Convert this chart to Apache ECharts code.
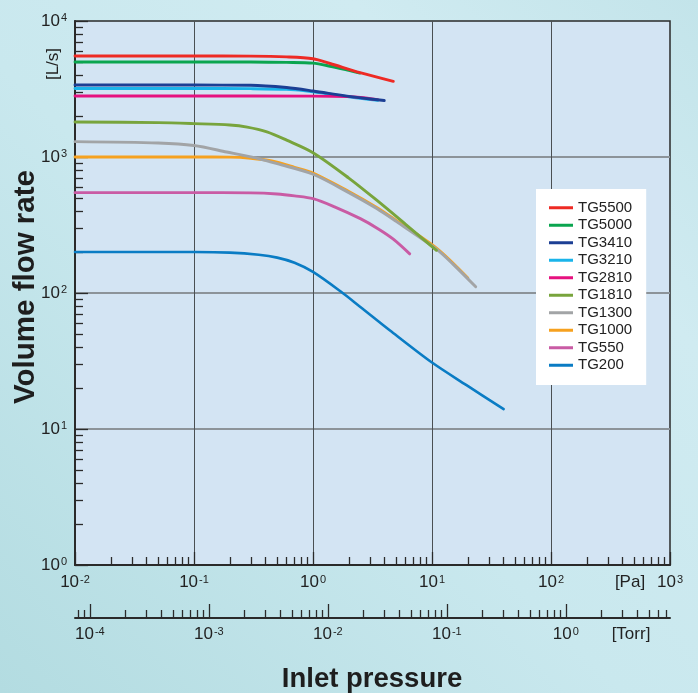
<!DOCTYPE html>
<html><head><meta charset="utf-8">
<script src="https://cdn.jsdelivr.net/npm/echarts@6/dist/echarts.min.js"></script>
<style>html,body{margin:0;padding:0;background:#c6e6ec}#c{width:698px;height:693px}</style>
</head><body><div id="c"></div>
<script>
// ---- data (x: inlet pressure [Pa], y: volume flow rate [L/s]) ----
const seriesNames = ['TG5500','TG5000','TG3410','TG3210','TG2810','TG1810','TG1300','TG1000','TG550','TG200'];
const seriesColors = ['#ee2a24','#0aa54f','#1c3f94','#1ab4ea','#e6117f','#78a43c','#a2a4a6','#f6a11f','#c95ba4','#0a7cc4'];
const tg5500 = [[0.01,5530],[0.1,5530],[0.3,5520],[0.6,5450],[1,5280],[1.39,4870],[2.48,4170],[4.73,3600]];
const tg5000 = [[0.01,5000],[0.1,5000],[0.3,4990],[0.6,4960],[1,4900],[1.39,4650],[2,4330],[2.48,4140]];
const tg3410 = [[0.01,3380],[0.1,3380],[0.3,3370],[0.6,3240],[1,3055],[2,2790],[3.97,2600]];
const tg3210 = [[0.01,3190],[0.1,3190],[0.3,3180],[0.6,3140],[1,3020],[2,2770],[3.5,2610]];
const tg2810 = [[0.01,2810],[0.1,2810],[1,2805],[2,2780],[2.5,2740],[3.5,2640]];
const tg1810 = [[0.01,1810],[0.05,1790],[0.1,1760],[0.2,1720],[0.28,1660],[0.41,1530],[0.6,1330],[1,1076],[2,700],[3.43,481],[6,320],[10.9,206]];
const tg1300 = [[0.01,1297],[0.05,1268],[0.1,1215],[0.188,1088],[0.36,966],[0.5,893],[1,747],[2,547],[3.43,418],[5,336],[10.9,210],[15,163],[23.3,111]];
const tg1000 = [[0.01,1000],[0.1,1000],[0.2,998],[0.3,980],[0.45,935],[0.7,840],[1,762],[2,558],[3.43,426],[5,342],[10.9,214],[20,129]];
const tg550  = [[0.01,547],[0.1,547],[0.3,545],[0.5,535],[0.7,518],[1,494],[1.5,432],[2.5,352],[3.54,296],[4.73,249],[6.5,194]];
const tg200  = [[0.01,200],[0.1,200],[0.2,198],[0.35,191],[0.5,182],[0.7,167],[1,143],[1.7,103],[2.5,79],[4.44,53],[10,30.8],[19.5,21],[40,14]];
const seriesData = [tg5500,tg5000,tg3410,tg3210,tg2810,tg1810,tg1300,tg1000,tg550,tg200];
const drawOrder = ['TG5000','TG5500','TG3210','TG2810','TG3410','TG1000','TG1300','TG1810','TG550','TG200'];

// ---- axes ticks ----
const paMajorTicks = [0.01,0.1,1,10,100,1000];
const paLabels = [0.01,0.1,1,10,100,1000];
const paMinorTicks = [];
for (let e=-2;e<=2;e++) for (let m=2;m<=9;m++) paMinorTicks.push(+(m*Math.pow(10,e)).toPrecision(3));
const flowMajorTicks = [1,10,100,1000,10000];
const flowLabels = [1,10,100,1000,10000];
const flowMinorTicks = [];
for (let e=0;e<=3;e++) for (let m=2;m<=9;m++) flowMinorTicks.push(+(m*Math.pow(10,e)).toPrecision(3));
const PA_PER_TORR = 133.322;
const torrMin = 0.01/PA_PER_TORR, torrMax = 1000/PA_PER_TORR;
const torrMajorTicks = [1e-4,1e-3,1e-2,1e-1,1];
const torrLabels = [1e-4,1e-3,1e-2,1e-1,1];
const torrMinorTicks = [8e-5,9e-5];
for (let e=-4;e<=-1;e++) for (let m=2;m<=9;m++) torrMinorTicks.push(+(m*Math.pow(10,e)).toPrecision(3));
for (let m=2;m<=7;m++) torrMinorTicks.push(m);

const FONT = '"Liberation Sans", Arial, Helvetica, sans-serif';
const INK = '#2a2a2a';
function powLabel(v){ const e = Math.round(Math.log10(v)); return '10{s|' + e + '}'; }
const labelBase = {
  fontSize: 17, lineHeight: 17, color: '#222', fontFamily: FONT, formatter: powLabel,
  rich: { s: { fontSize: 11, lineHeight: 11, verticalAlign: 'top', color: '#222', fontFamily: FONT, padding: [0,0,0,1] } }
};

const chart = echarts.init(document.getElementById('c'), null, {renderer:'canvas', width:698, height:693});

const series = drawOrder.map(name => {
  const i = seriesNames.indexOf(name);
  return {
    name, type: 'line', xAxisIndex: 0, yAxisIndex: 0,
    data: seriesData[i], showSymbol: false, symbol: 'none',
    smooth: 0.3,
    lineStyle: { color: seriesColors[i], width: name === 'TG200' ? 2.6 : 2.9, cap: 'round', join: 'round' },
    itemStyle: { color: seriesColors[i] },
    emphasis: { disabled: true }, silent: true
  };
});

const option = {
  animation: false,
  backgroundColor: { type:'linear', x:0, y:1, x2:1, y2:0, colorStops:[
    {offset:0, color:'#b3dce1'},{offset:0.45, color:'#c9e8ee'},{offset:0.75, color:'#d0ebf1'},{offset:1, color:'#c3e4ea'}] },
  grid: [
    { left: 75, right: 28, top: 21, bottom: 128, show: true, backgroundColor: '#d3e4f3', borderColor: INK, borderWidth: 1.5, z: 0 },
    { left: 75, right: 28, top: 617, height: 1, show: false }
  ],
  xAxis: [
    { gridIndex:0, type:'log', logBase:10, min:0.01, max:1000, position:'bottom',
      axisLine:{show:true, onZero:false, lineStyle:{color:INK, width:2}},
      axisTick:{show:true, inside:true, length:13, customValues: paMajorTicks, lineStyle:{color:INK, width:1.3}},
      axisLabel: Object.assign({show:true, margin:9, customValues: paLabels, showMinLabel:true, showMaxLabel:true, hideOverlap:false}, labelBase),
      splitLine:{show:true, showMinLine:false, showMaxLine:false, lineStyle:{color:'#4a4f52', width:1}} },
    { gridIndex:0, type:'log', logBase:10, min:0.01, max:1000, position:'bottom',
      axisLine:{show:false, onZero:false},
      axisTick:{show:true, inside:true, length:8, customValues: paMinorTicks, lineStyle:{color:INK, width:1.3}},
      axisLabel:{show:false}, splitLine:{show:false} },
    { gridIndex:1, type:'log', logBase:10, min:torrMin, max:torrMax, position:'bottom',
      axisLine:{show:true, onZero:false, lineStyle:{color:INK, width:2}},
      axisTick:{show:true, inside:true, length:14, customValues: torrMajorTicks, lineStyle:{color:INK, width:1.3}},
      axisLabel: Object.assign({show:true, margin:8, customValues: torrLabels, showMinLabel:true, showMaxLabel:true, hideOverlap:false}, labelBase),
      splitLine:{show:false} },
    { gridIndex:1, type:'log', logBase:10, min:torrMin, max:torrMax, position:'bottom',
      axisLine:{show:false, onZero:false},
      axisTick:{show:true, inside:true, length:8, customValues: torrMinorTicks, lineStyle:{color:INK, width:1.3}},
      axisLabel:{show:false}, splitLine:{show:false} }
  ],
  yAxis: [
    { gridIndex:0, type:'log', logBase:10, min:1, max:10000, position:'left',
      axisLine:{show:true, onZero:false, lineStyle:{color:INK, width:2}},
      axisTick:{show:true, inside:true, length:13, customValues: flowMajorTicks, lineStyle:{color:INK, width:1.3}},
      axisLabel: Object.assign({show:true, margin:8, customValues: flowLabels, showMinLabel:true, showMaxLabel:true, hideOverlap:false}, labelBase),
      splitLine:{show:true, showMinLine:false, showMaxLine:false, lineStyle:{color:'#8c9399', width:2}} },
    { gridIndex:0, type:'log', logBase:10, min:1, max:10000, position:'left',
      axisLine:{show:false, onZero:false},
      axisTick:{show:true, inside:true, length:8, customValues: flowMinorTicks, lineStyle:{color:INK, width:1.3}},
      axisLabel:{show:false}, splitLine:{show:false} },
    { gridIndex:1, type:'value', min:0, max:1, show:false }
  ],
  legend: {
    data: seriesNames, orient:'vertical', left:536, top:189,
    backgroundColor:'#ffffff', padding:[10,14,11,13],
    icon:'rect', itemWidth:24, itemHeight:3, itemGap:0,
    selectedMode:false,
    textStyle:{fontSize:15, lineHeight:17.5, color:'#222', fontFamily:FONT}
  },
  graphic: [
    { type:'text', x:630, y:582, style:{text:'[Pa]', fontSize:17, fontFamily:FONT, fill:'#222', textAlign:'center', textVerticalAlign:'middle'} },
    { type:'text', x:631, y:634, style:{text:'[Torr]', fontSize:17, fontFamily:FONT, fill:'#222', textAlign:'center', textVerticalAlign:'middle'} },
    { type:'text', x:53, y:64, rotation:Math.PI/2, style:{text:'[L/s]', fontSize:17, fontFamily:FONT, fill:'#222', textAlign:'center', textVerticalAlign:'middle'} },
    { type:'text', x:26, y:287, rotation:Math.PI/2, style:{text:'Volume flow rate', fontSize:29.5, fontWeight:'bold', fontFamily:FONT, fill:'#1e1e1e', textAlign:'center', textVerticalAlign:'middle'} },
    { type:'text', x:372, y:679, style:{text:'Inlet pressure', fontSize:27.5, fontWeight:'bold', fontFamily:FONT, fill:'#1e1e1e', textAlign:'center', textVerticalAlign:'middle'} }
  ],
  series
};
chart.setOption(option);
</script></body></html>
